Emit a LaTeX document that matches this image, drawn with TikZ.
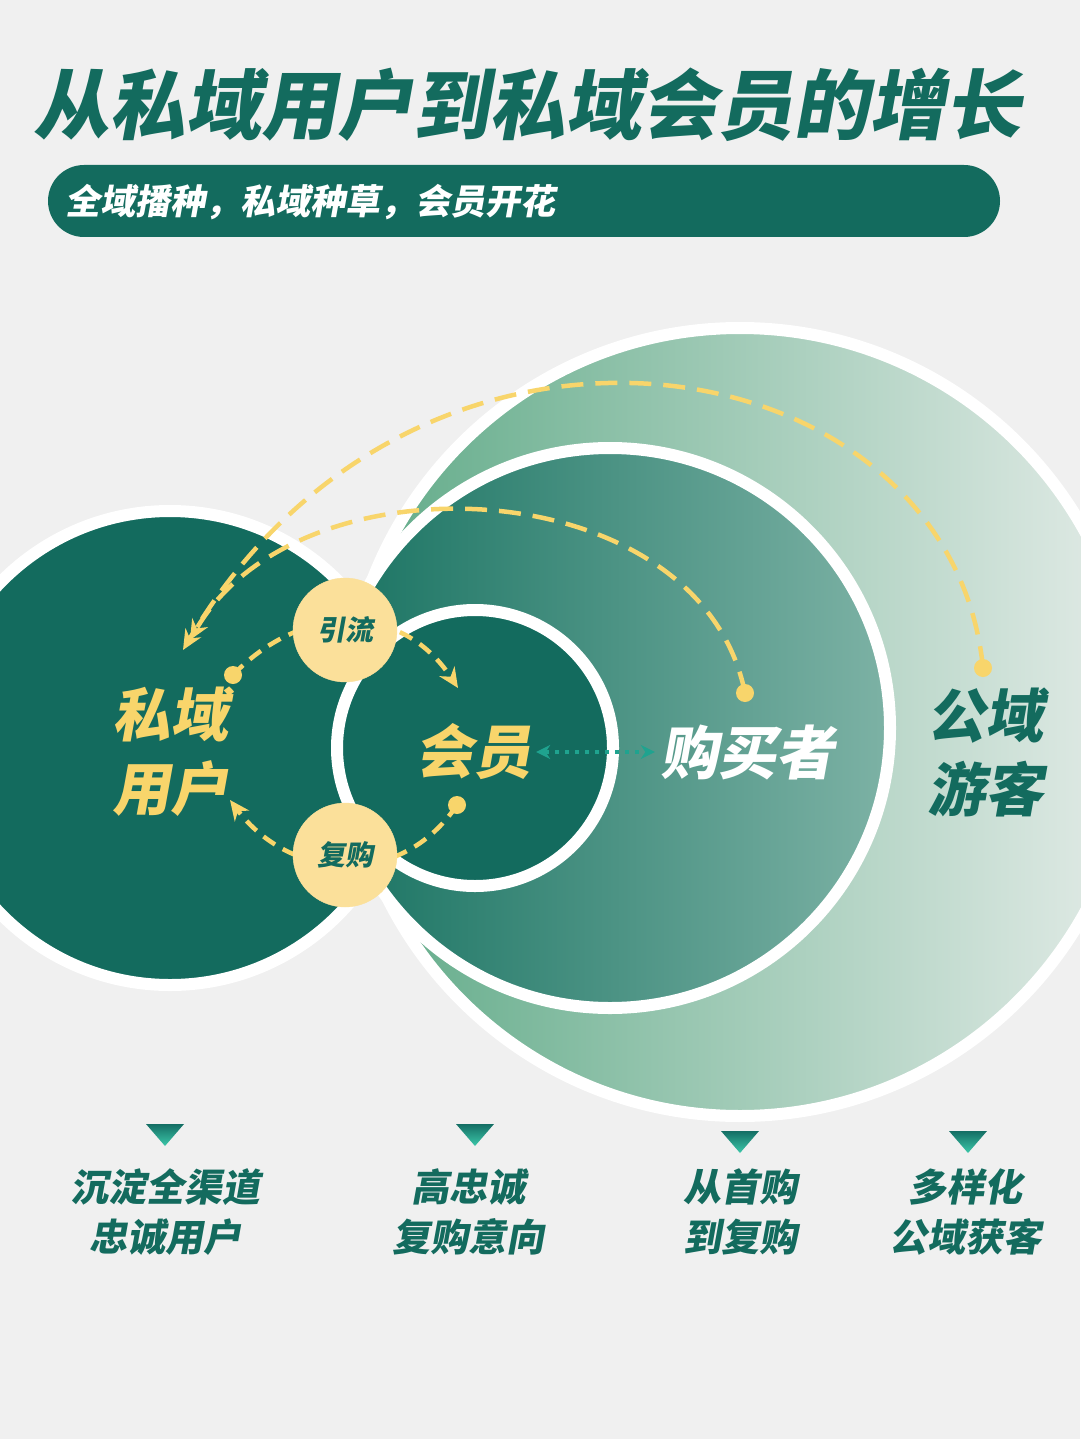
\documentclass[tikz,border=0pt]{standalone}
\usepackage{fontspec}
\newfontfamily\cjk[FakeSlant=0.18]{Noto Sans CJK SC}
\usetikzlibrary{arrows.meta}
\definecolor{dg}{HTML}{136B5E}
\definecolor{bg}{HTML}{F0F0F0}
\definecolor{yl}{HTML}{F8D56B}
\definecolor{yc}{HTML}{FBE09A}
\definecolor{tl}{HTML}{1FA38F}
\definecolor{bigL}{RGB}{95,170,135}
\definecolor{bigR}{RGB}{228,236,232}
\definecolor{midL}{RGB}{25,115,98}
\definecolor{midR}{RGB}{125,178,165}
\definecolor{triT}{RGB}{20,110,100}
\definecolor{triB}{RGB}{60,200,170}
\tikzset{
 xtxt/.style={font=\cjk\bfseries, inner sep=0pt, align=center},
 xring/.style={draw=white, line width=12pt},
 ydash/.style={yl, line width=4.5pt, dash pattern=on 22pt off 12pt},
 ydashs/.style={yl, line width=4.5pt, dash pattern=on 14pt off 9pt},
 ytip/.style={-{Stealth[length=20pt,width=18pt]}},
 ydot/.style={circle, fill=yl, minimum size=18pt, inner sep=0pt},
 ysmall/.style={circle, fill=yc, draw=yc, minimum size=104pt, inner sep=0pt, font=\cjk\bfseries\fontsize{28}{30}\selectfont, text=dg},
 xbot/.style={xtxt, text=dg, font=\cjk\bfseries\fontsize{38}{50}\selectfont},
}
\begin{document}
\begin{tikzpicture}[x=1pt,y=-1pt]
\fill[bg] (0,0) rectangle (1080,1439);
\useasboundingbox (0,0) rectangle (1080,1439);
\node[xtxt, text=dg, font=\cjk\bfseries\fontsize{76}{80}\selectfont] (title) at (527,105) {从私域用户到私域会员的增长};
\fill[dg, rounded corners=36pt] (48,165) rectangle (1000,237);
\node[xtxt, anchor=west, text=white, font=\cjk\bfseries\fontsize{35}{40}\selectfont] (sub) at (65,202) {全域播种，私域种草，会员开花};
% circles
\shade[left color=bigL, right color=bigR] (740,722) circle (394);
\draw[xring] (740,722) circle (394);
\shade[left color=midL, right color=midR] (610,728) circle (280);
\draw[xring] (610,728) circle (280);
\fill[dg] (170,748) circle (237);
\draw[xring] (170,748) circle (237);
\fill[dg] (475,748) circle (138);
\draw[xring] (475,748) circle (138);
% big arcs
\coordinate (a1) at (983,668);
\coordinate (a2) at (745,693);
\coordinate (e1) at (183,650);
\coordinate (e2) at (190,640);
\draw[ydash, ytip] (a1) .. controls (950,340) and (420,250) .. (e1);
\draw[ydash, ytip] (a2) .. controls (700,470) and (300,450) .. (e2);
\node[ydot] (d1) at (a1) {};
\node[ydot] (d2) at (a2) {};
% small arcs
\coordinate (s1) at (233,675);
\coordinate (t1) at (458,688);
\coordinate (s2) at (457,805);
\coordinate (t2) at (230,800);
\draw[ydashs, ytip] (s1) .. controls (300,605) and (400,600) .. (t1);
\draw[ydashs, ytip] (s2) .. controls (400,890) and (290,880) .. (t2);
\node[ydot] (d3) at (s1) {};
\node[ydot] (d4) at (s2) {};
\node[ysmall] (yin) at (345,630) {引流};
\node[ysmall] (fu) at (345,855) {复购};
% labels
\node[xtxt, text=yl, font=\cjk\bfseries\fontsize{58}{74}\selectfont] (sy) at (170,752) {私域\\用户};
\node[xtxt, text=yl, font=\cjk\bfseries\fontsize{58}{70}\selectfont] (hy) at (473,752) {会员};
\node[xtxt, text=white, font=\cjk\bfseries\fontsize{58}{70}\selectfont] (gm) at (747,752) {购买者};
\node[xtxt, text=dg, font=\cjk\bfseries\fontsize{58}{74}\selectfont] (gy) at (985,752) {公域\\游客};
\draw[tl, line width=4pt, dash pattern=on 4pt off 6pt, {Stealth[length=14pt,width=14pt]}-{Stealth[length=14pt,width=14pt]}] ([xshift=5pt]hy.east) -- ([xshift=-5pt]gm.west);
% bottom
\foreach \x/\y in {165/1135,475/1135,740/1142,968/1142}{
 \shade[top color=triT, bottom color=triB] (\x-19,\y-11) -- (\x+19,\y-11) -- (\x,\y+11) -- cycle;}
\node[xbot] (b1) at (165,1212) {沉淀全渠道\\忠诚用户};
\node[xbot] (b2) at (468,1212) {高忠诚\\复购意向};
\node[xbot] (b3) at (740,1212) {从首购\\到复购};
\node[xbot] (b4) at (965,1212) {多样化\\公域获客};
\end{tikzpicture}
\end{document}
